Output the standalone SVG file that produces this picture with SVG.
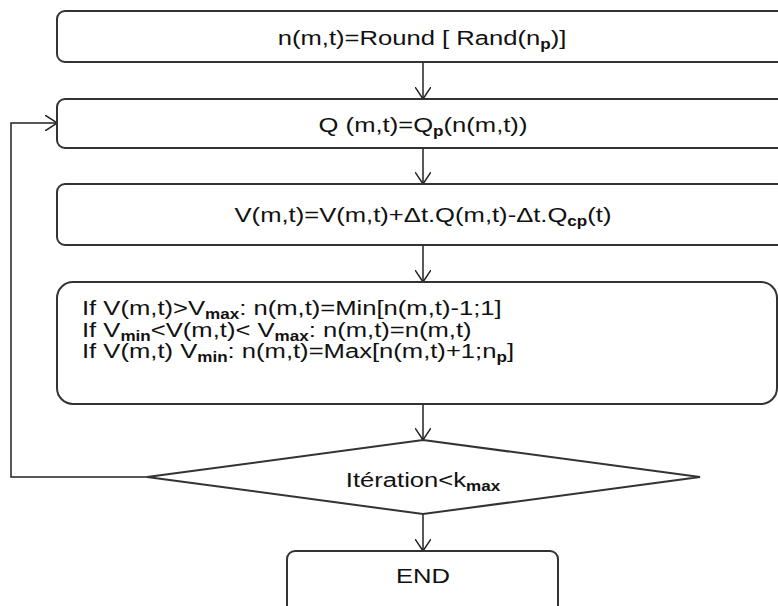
<svg xmlns="http://www.w3.org/2000/svg" width="778" height="606" viewBox="0 0 778 606">
<defs>
<marker id="arr" viewBox="0 0 12 16" refX="12" refY="8" markerWidth="12" markerHeight="16" markerUnits="userSpaceOnUse" orient="auto">
<path d="M0,0 L12,8 L0,16" fill="none" stroke="#222" stroke-width="1.5"/>
</marker>
<style>
.box{fill:#fff;stroke:#333;stroke-width:2}
.t{font-family:"Liberation Sans",Arial,sans-serif;font-size:21px;fill:#111}
.s{font-size:14px;font-weight:bold}
.c{fill:none;stroke:#222;stroke-width:1.5}
</style>
</defs>
<rect width="778" height="606" fill="#fff"/>
<g id="connectors">
<line class="c" x1="423" y1="62" x2="423" y2="99" marker-end="url(#arr)"/>
<line class="c" x1="423" y1="148" x2="423" y2="184" marker-end="url(#arr)"/>
<line class="c" x1="423" y1="245" x2="423" y2="282" marker-end="url(#arr)"/>
<line class="c" x1="423" y1="404" x2="423" y2="440" marker-end="url(#arr)"/>
<line class="c" x1="423" y1="514" x2="423" y2="551" marker-end="url(#arr)"/>
<polyline class="c" points="147,477 11,477 11,123 57,123" marker-end="url(#arr)"/>
</g>
<g id="n1">
<rect class="box" x="57" y="11" width="770" height="51" rx="8"/>
<text class="t" transform="translate(422,45) scale(1.22,1)" text-anchor="middle">n(m,t)=Round [ Rand(n<tspan class="s" dy="4">p</tspan><tspan dy="-4">)]</tspan></text>
</g>
<g id="n2">
<rect class="box" x="57" y="99" width="770" height="49" rx="8"/>
<text class="t" transform="translate(423,132) scale(1.22,1)" text-anchor="middle">Q (m,t)=Q<tspan class="s" dy="4">p</tspan><tspan dy="-4">(n(m,t))</tspan></text>
</g>
<g id="n3">
<rect class="box" x="57" y="184" width="770" height="61" rx="8"/>
<text class="t" transform="translate(423,222) scale(1.22,1)" text-anchor="middle">V(m,t)=V(m,t)+Δt.Q(m,t)-Δt.Q<tspan class="s" dy="4">cp</tspan><tspan dy="-4">(t)</tspan></text>
</g>
<g id="n4">
<rect class="box" x="57" y="282" width="720" height="122" rx="16"/>
<text class="t" transform="translate(82,315) scale(1.22,1)">If V(m,t)&gt;V<tspan class="s" dy="4">max</tspan><tspan dy="-4">: n(m,t)=Min[n(m,t)-1;1]</tspan></text>
<text class="t" transform="translate(82,337) scale(1.22,1)">If V<tspan class="s" dy="4">min</tspan><tspan dy="-4">&lt;V(m,t)&lt; V</tspan><tspan class="s" dy="4">max</tspan><tspan dy="-4">: n(m,t)=n(m,t)</tspan></text>
<text class="t" transform="translate(82,358) scale(1.22,1)">If V(m,t) V<tspan class="s" dy="4">min</tspan><tspan dy="-4">: n(m,t)=Max[n(m,t)+1;n</tspan><tspan class="s" dy="4">p</tspan><tspan dy="-4">]</tspan></text>
</g>
<g id="n5">
<polygon class="box" points="423,440 700,477 423,514 147,477"/>
<text class="t" transform="translate(423,487) scale(1.22,1)" text-anchor="middle">Itération&lt;k<tspan class="s" dy="4">max</tspan></text>
</g>
<g id="n6">
<rect class="box" x="287" y="551" width="271" height="80" rx="8"/>
<text class="t" transform="translate(423,583) scale(1.22,1)" text-anchor="middle">END</text>
</g>
</svg>
